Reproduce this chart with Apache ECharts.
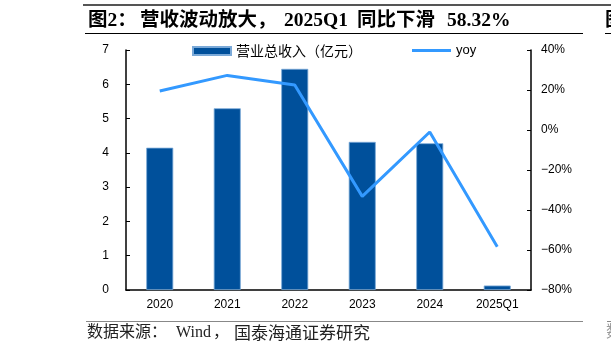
<!DOCTYPE html>
<html>
<head>
<meta charset="utf-8">
<script src="https://cdn.jsdelivr.net/npm/echarts@6/dist/echarts.min.js"></script>
<style>
  html, body { margin: 0; padding: 0; background: #fff; }
  #main { width: 611px; height: 354px; }
</style>
</head>
<body>
<div id="main"></div>
<script>
// 数据
var categories = ['2020', '2021', '2022', '2023', '2024', '2025Q1'];
var revenue = [4.15, 5.3, 6.45, 4.32, 4.28, 0.13];      // 营业总收入(亿元)
var yoy = [19.5, 27.3, 22.5, -33.2, -1.0, -58.32];       // yoy %
var leftTicks = [0, 7, 1];       // min, max, interval
var rightTicks = [-80, 40, 20];

var myChart = echarts.init(document.getElementById('main'));

var latin = '"Liberation Sans", Arial, sans-serif';
var cjk = '"Noto Sans CJK SC", sans-serif';
var titleFont = 'bold 19.5px "Liberation Serif", "Noto Sans CJK SC", serif';
var srcFont = '16px "Liberation Serif", "Noto Sans CJK SC", serif';

function txt(x, y, s, font, fill) {
    return { type: 'text', x: x, y: y, style: {
        text: s, font: font, fill: fill || '#000', textVerticalAlign: 'middle'
    } };
}

var option = {
    animation: false,
    backgroundColor: '#fff',
    grid: { left: 126, right: 80, top: 50, bottom: 64 },
    legend: [
        {
            left: 192, top: 44, padding: 0,
            itemWidth: 38, itemHeight: 8,
            textStyle: { fontSize: 14, color: '#000', fontFamily: cjk },
            data: [{ name: '营业总收入（亿元）', icon: 'rect' }]
        },
        {
            left: 412, top: 44, padding: 0,
            itemWidth: 39, itemHeight: 3,
            textStyle: { fontSize: 13, color: '#000', fontFamily: latin },
            data: [{ name: 'yoy', icon: 'rect' }]
        }
    ],
    xAxis: [{
        type: 'category',
        data: categories,
        axisLine: { lineStyle: { color: '#000', width: 1.5 } },
        axisTick: { inside: true, length: 4, lineStyle: { color: '#000' } },
        axisLabel: { color: '#000', fontSize: 12, fontFamily: latin, margin: 9 }
    }],
    yAxis: [
        {
            type: 'value',
            min: leftTicks[0], max: leftTicks[1], interval: leftTicks[2],
            splitLine: { show: false },
            axisLine: { show: true, lineStyle: { color: '#000', width: 1.5 } },
            axisTick: { show: true, inside: true, length: 4, lineStyle: { color: '#000' } },
            axisLabel: { color: '#000', fontSize: 12, fontFamily: latin, margin: 17 }
        },
        {
            type: 'value',
            min: rightTicks[0], max: rightTicks[1], interval: rightTicks[2],
            splitLine: { show: false },
            axisLine: { show: true, lineStyle: { color: '#000', width: 1.5 } },
            axisTick: { show: true, inside: true, length: 4, lineStyle: { color: '#000' } },
            axisLabel: {
                color: '#000', fontSize: 12, fontFamily: latin, margin: 10,
                formatter: function (v) {
                    return (v < 0 ? '\u2212' + Math.abs(v) : v) + '%';
                }
            }
        }
    ],
    series: [
        {
            name: '营业总收入（亿元）',
            type: 'bar',
            data: revenue,
            barWidth: '40%',
            itemStyle: { color: '#00509B', borderColor: '#7AA9D8', borderWidth: 0.8 }
        },
        {
            name: 'yoy',
            type: 'line',
            yAxisIndex: 1,
            data: yoy,
            symbol: 'none',
            lineStyle: { color: '#3399FF', width: 3 },
            itemStyle: { color: '#3399FF' }
        }
    ],
    graphic: [
        // 顶部灰线
        { type: 'rect', shape: { x: 83, y: 4, width: 528, height: 2 }, style: { fill: '#555' } },
        // 标题
        txt(88, 21, '图2：', titleFont),
        txt(140, 21, '营收波动放大，', titleFont),
        txt(284, 21, '2025Q1', titleFont),
        txt(357, 21, '同比下滑', titleFont),
        txt(447, 21, '58.32%', titleFont),
        { type: 'rect', shape: { x: 85, y: 33, width: 498, height: 1 }, style: { fill: '#000' } },
        // 右侧相邻图表的残留
        txt(605, 21, '图3', titleFont),
        { type: 'rect', shape: { x: 605, y: 33, width: 6, height: 1 }, style: { fill: '#000' } },
        // 底部线
        { type: 'rect', shape: { x: 86, y: 321, width: 497, height: 1 }, style: { fill: '#888' } },
        { type: 'rect', shape: { x: 607, y: 321, width: 4, height: 1 }, style: { fill: '#888' } },
        // 数据来源
        txt(87, 333, '数据来源：', srcFont, '#222'),
        txt(176, 333, 'Wind', srcFont, '#222'),
        txt(213, 333, '，', srcFont, '#222'),
        txt(234, 333, '国泰海通证券研究', '17px "Noto Sans CJK SC", serif', '#222'),
        txt(606, 333, '数据', srcFont, '#999')
    ]
};

myChart.setOption(option);
</script>
</body>
</html>
